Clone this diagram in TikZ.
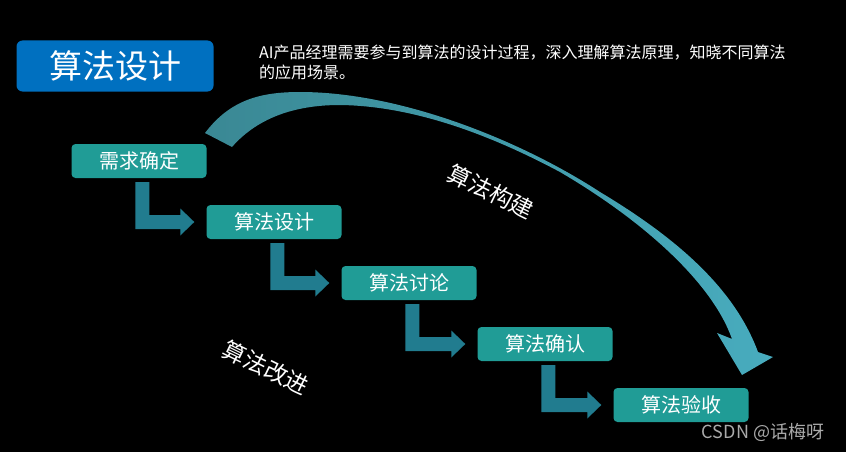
\documentclass[tikz,border=0pt]{standalone}
\usepackage{fontspec}
\setmainfont{Noto Sans CJK SC}
\usetikzlibrary{calc}
\definecolor{boxteal}{RGB}{32,156,150}
\definecolor{titleblue}{RGB}{0,112,192}
\definecolor{lcol}{RGB}{33,124,143}
\definecolor{arcL}{RGB}{58,136,148}
\definecolor{arcR}{RGB}{72,172,190}
\definecolor{wm}{RGB}{170,170,170}
\tikzset{
  stepbox/.style={fill=boxteal, rounded corners=4pt, minimum width=135pt, minimum height=34pt,
    inner sep=0pt, text=white, font=\fontsize{20}{20}\selectfont},
  titlebox/.style={fill=titleblue, rounded corners=6pt, minimum width=197pt, minimum height=51pt,
    inner sep=0pt, text=white, font=\fontsize{33}{33}\selectfont},
  lshape/.style={fill=lcol},
  slant/.style={text=white, font=\fontsize{23}{23}\selectfont, rotate=-26, inner sep=0pt},
}
\newcommand\Lconn[2]{%
  \fill[lshape] let \p1=($(#1.south west)+(64,4)$), \p2=($(#2.west)+(-12,0)$) in
  (\x1,\y1) -- (\x1+14pt,\y1) -- (\x1+14pt,\y2+7pt) -- (\x2-14pt,\y2+7pt) --
  (\x2-14pt,\y2+13.5pt) -- (\x2,\y2) -- (\x2-14pt,\y2-13.5pt) -- (\x2-14pt,\y2-7pt) --
  (\x1,\y2-7pt) -- cycle;}
\begin{document}
\begin{tikzpicture}[x=1pt,y=-1pt]
\fill[black] (0,0) rectangle (846,452);
\useasboundingbox (0,0) rectangle (846,452);

% curved arrow
\shade[left color=arcL, right color=arcR]
  (205,133) .. controls (230,100) and (260,92) .. (300,92)
  .. controls (400,92) and (520,140) .. (600,192)
  .. controls (680,240) and (735,290) .. (758,352)
  -- (773,357) -- (742,375) -- (717,333) -- (732,339)
  .. controls (712,282) and (642,220) .. (560,172)
  .. controls (500,140) and (420,106) .. (340,105)
  .. controls (300,105) and (260,115) .. (232,147) -- cycle;

\node[titlebox] (title) at (115,66) {算法设计};
\node[anchor=north west, inner sep=0pt, align=left, text=white,
  font=\fontsize{16}{19.5}\selectfont] (desc) at (259,45)
  {AI产品经理需要参与到算法的设计过程，深入理解算法原理，知晓不同算法\\的应用场景。};

\node[stepbox] (s1) at (139,161) {需求确定};
\node[stepbox] (s2) at (274,222) {算法设计};
\node[stepbox] (s3) at (409,283) {算法讨论};
\node[stepbox] (s4) at (545,344) {算法确认};
\node[stepbox] (s5) at (681,405) {算法验收};

\Lconn{s1}{s2}
\Lconn{s2}{s3}
\Lconn{s3}{s4}
\Lconn{s4}{s5}

\node[slant] (build) at (491,192) {算法构建};
\node[slant] (improve) at (266,368) {算法改进};

\node[text=wm, font=\fontsize{18}{18}\selectfont, inner sep=0pt] (wmk) at (763,432) {CSDN @话梅呀};
\end{tikzpicture}
\end{document}
